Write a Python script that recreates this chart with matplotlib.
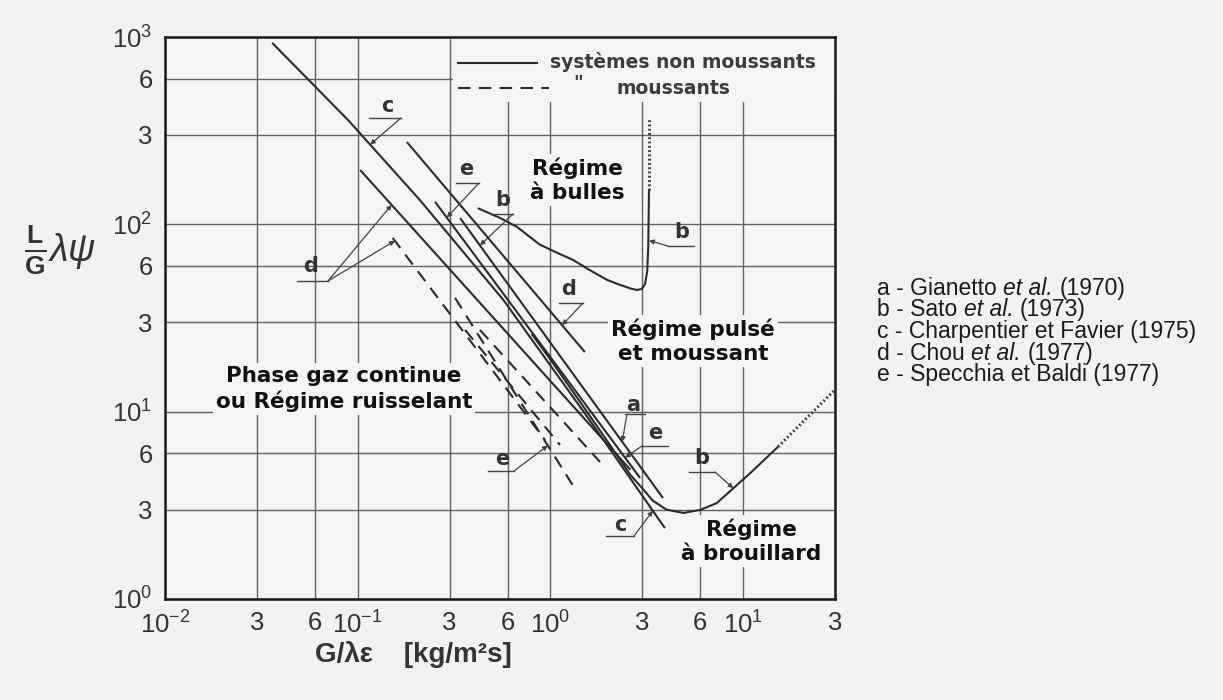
import numpy as np
import matplotlib
matplotlib.use("Agg")
import matplotlib.pyplot as plt
from matplotlib import font_manager
from matplotlib.patches import Rectangle
from matplotlib.ticker import NullLocator

# ---------------- data ----------------
x_ticks = [0.01, 0.03, 0.06, 0.1, 0.3, 0.6, 1, 3, 6, 10, 30]
x_ticklabels = [r'$10^{-2}$', '3', '6', r'$10^{-1}$', '3', '6', r'$10^{0}$', '3', '6', r'$10^{1}$', '3']
y_ticks = [1, 3, 6, 10, 30, 60, 100, 300, 600, 1000]
y_ticklabels = [r'$10^{0}$', '3', '6', r'$10^{1}$', '3', '6', r'$10^{2}$', '3', '6', r'$10^{3}$']

# solid lines (non-foaming systems)
c_x = [0.036, 0.089, 0.21, 0.57, 1.6, 3.93]
c_y = [930, 361, 135, 39.5, 9.0, 2.39]
d_up_x = [0.103, 2.6]
d_up_y = [195, 4.9]
d_right_x = [0.18, 1.51]
d_right_y = [275, 20.8]
e_top_x = [0.252, 2.92]
e_top_y = [132, 4.43]
a_x = [0.34, 3.84]
a_y = [108, 3.46]

# Sato (b) boundaries
b_up_x = [0.42, 0.55, 0.67, 0.88, 1.1, 1.31, 1.6, 1.97, 2.3, 2.6, 2.81, 2.98, 3.1, 3.18, 3.22, 3.25]
b_up_y = [122, 108, 97, 78, 70, 64.6, 57, 50.5, 47.5, 45.5, 44.6, 45.2, 48, 56, 75, 153]
b_up_dot_x = [3.25, 3.25]
b_up_dot_y = [153, 370]
b_low_x = [0.8, 1.0, 1.8, 2.6, 3.0, 3.4, 4.0, 4.9, 6.0, 7.3, 8.9, 10.9, 15.2]
b_low_y = [26, 19, 8.0, 4.6, 3.9, 3.35, 3.0, 2.88, 2.99, 3.25, 3.9, 4.7, 6.5]
b_low_dot_x = [15.2, 30]
b_low_dot_y = [6.5, 13.1]

# dashed lines (foaming systems)
dash_d_x = [0.152, 0.938]
dash_d_y = [84.6, 7.06]
dash_e_x = [0.320, 1.374]
dash_e_y = [40.5, 3.73]
dash_3_x = [0.361, 1.122]
dash_3_y = [27.3, 6.64]
dash_4_x = [0.431, 1.81]
dash_4_y = [27.3, 5.39]

legend_entries = [
    ("a - Gianetto ", "et al.", " (1970)"),
    ("b - Sato ", "et al.", " (1973)"),
    ("c - Charpentier et Favier (1975)", "", ""),
    ("d - Chou ", "et al.", " (1977)"),
    ("e - Specchia et Baldi (1977)", "", ""),
]

# ---------------- fonts ----------------
names = {f.name for f in font_manager.fontManager.ttflist}
narrow = 'Liberation Sans Narrow' if 'Liberation Sans Narrow' in names else 'Liberation Sans'
plt.rcParams['font.family'] = ['Liberation Sans', 'DejaVu Sans']
plt.rcParams['mathtext.fontset'] = 'custom'
plt.rcParams['mathtext.rm'] = narrow
plt.rcParams['mathtext.it'] = narrow + ':italic'
plt.rcParams['mathtext.bf'] = narrow + ':bold'

W, H = 1223, 700
BG = '#f2f2f2'
AXBG = '#f5f5f5'
INK = '#2b2b2b'
GRID = '#606060'

fig = plt.figure(figsize=(W / 100, H / 100), dpi=100, facecolor=BG)
ax = fig.add_axes([165 / W, 101 / H, 670 / W, 562 / H], facecolor=AXBG)
ax.set_xscale('log')
ax.set_yscale('log')
ax.set_xlim(0.01, 30)
ax.set_ylim(1, 1000)
ax.set_xticks(x_ticks)
ax.set_xticklabels(x_ticklabels)
ax.set_yticks(y_ticks)
ax.set_yticklabels(y_ticklabels)
ax.xaxis.set_minor_locator(NullLocator())
ax.yaxis.set_minor_locator(NullLocator())
ax.tick_params(length=0, labelsize=18.5, labelcolor='#333333', pad=9)
for lab in ax.get_xticklabels() + ax.get_yticklabels():
    lab.set_family(narrow)
ax.set_axisbelow(True)
ax.grid(True, color=GRID, lw=1.0)
for s in ax.spines.values():
    s.set_linewidth(1.8)
    s.set_color('#1a1a1a')

# box behind in-plot legend (interrupts grid)
ax.add_patch(Rectangle((0.43, 0.885), 0.57, 0.115, transform=ax.transAxes,
                       facecolor=AXBG, edgecolor='none', zorder=1))

lw = 1.5
solid = [(c_x, c_y), (d_up_x, d_up_y), (d_right_x, d_right_y),
         (e_top_x, e_top_y), (a_x, a_y), (b_up_x, b_up_y), (b_low_x, b_low_y)]
for xs, ys in solid:
    ax.plot(xs, ys, color=INK, lw=lw, zorder=3, solid_capstyle='butt', solid_joinstyle='round')
for xs, ys in [(b_up_dot_x, b_up_dot_y), (b_low_dot_x, b_low_dot_y)]:
    ax.plot(xs, ys, color='#444444', lw=2.2, ls=(0, (0.6, 0.8)), zorder=3)
for xs, ys in [(dash_d_x, dash_d_y), (dash_e_x, dash_e_y), (dash_3_x, dash_3_y), (dash_4_x, dash_4_y)]:
    ax.plot(xs, ys, color=INK, lw=lw, dashes=(6, 4), zorder=3)


def on_curve(xs, ys, x):
    return x, 10 ** np.interp(np.log10(x), np.log10(xs), np.log10(ys))


def fx(px):
    return (px - 165) / 670.0


def fy(py):
    return (599 - py) / 562.0


def letter(ch, tx, ty, ul, tips):
    ax.text(fx(tx), fy(ty), ch, transform=ax.transAxes, ha='center', va='center',
            fontsize=15, fontweight='bold', color='#333333', family='DejaVu Sans', zorder=4)
    ax.plot([fx(ul[0]), fx(ul[1])], [fy(ul[2]), fy(ul[2])], transform=ax.transAxes,
            color='#444444', lw=1.0, zorder=4)
    for start, tip in tips:
        ax.annotate('', xy=tip, xycoords='data', xytext=(fx(start[0]), fy(start[1])),
                    textcoords='axes fraction',
                    arrowprops=dict(arrowstyle='-|>', color='#444444', lw=0.9,
                                    mutation_scale=7, shrinkA=0, shrinkB=0), zorder=4)


letter('c', 387, 106, (369, 401, 118), [((401, 118), on_curve(c_x, c_y, 0.116))])
letter('e', 466, 169, (456, 479, 183), [((479, 183), on_curve(e_top_x, e_top_y, 0.29))])
letter('b', 503, 200, (491, 513, 214), [((513, 214), on_curve(a_x, a_y, 0.431))])
letter('d', 311, 266, (297, 328, 281), [((328, 281), on_curve(d_up_x, d_up_y, 0.15)),
                                       ((328, 281), on_curve(dash_d_x, dash_d_y, 0.156))])
letter('d', 569, 289, (559, 583, 303), [((583, 303), on_curve(d_right_x, d_right_y, 1.15))])
letter('b', 682, 232, (668, 694, 246), [((668, 246), (b_up_x[-1], 82))])
letter('a', 633, 405, (625, 645, 414), [((627, 414), on_curve(a_x, a_y, 2.36))])
letter('e', 655, 433, (642, 668, 446), [((642, 446), on_curve(e_top_x, e_top_y, 2.44))])
letter('e', 502, 459, (488, 514, 471), [((514, 471), on_curve(dash_e_x, dash_e_y, 0.97))])
letter('b', 702, 458, (689, 715, 472), [((715, 472), on_curve(b_low_x, b_low_y, 8.9))])
letter('c', 620, 525, (606, 634, 536), [((634, 536), on_curve(c_x, c_y, 3.4))])

# region labels
reg = dict(transform=ax.transAxes, ha='center', va='center', fontsize=15.5, fontweight='bold',
           family='DejaVu Sans', color='#111111', linespacing=1.25, zorder=1.5,
           bbox=dict(facecolor=AXBG, edgecolor='none', pad=2))
ax.text(fx(577), fy(180), 'Régime\nà bulles', **reg)
ax.text(fx(693), fy(341), 'Régime pulsé\net moussant', **reg)
ax.text(fx(751), fy(541), 'Régime\nà brouillard', **reg)
ax.text(fx(344), fy(389), 'Phase gaz continue\nou Régime ruisselant', **reg)

# in-plot legend
ax.plot([fx(458), fx(537)], [fy(63), fy(63)], transform=ax.transAxes, color=INK, lw=1.5, zorder=3)
ax.plot([fx(458), fx(549)], [fy(88), fy(88)], transform=ax.transAxes, color=INK, lw=1.5,
        dashes=(6, 4), zorder=3)
lg = dict(transform=ax.transAxes, va='center', fontsize=13.5, fontweight='bold',
          family='DejaVu Sans', color='#3c3c3c', zorder=3)
ax.text(fx(550), fy(62), 'systèmes non moussants', ha='left', **lg)
ax.text(fx(578), fy(84), '"', ha='center', **lg)
ax.text(fx(617), fy(88), 'moussants', ha='left', **lg)

# axis labels
fig.text(60 / W, 1 - 250 / H, r'$\frac{\mathbf{L}}{\mathbf{G}}\lambda\psi$', fontsize=27,
         ha='center', va='center', color='#333333')
fig.text(413 / W, 1 - 655 / H, 'G/λε    [kg/m²s]', fontsize=20, fontweight='bold',
         family=[narrow, 'DejaVu Sans'], ha='center', va='center', color='#333333')

# right-hand legend with italic parts
renderer = fig.canvas.get_renderer()
LFS = 16.5


def width_of(s, style):
    t = fig.text(0, 0, s, fontsize=LFS, style=style)
    w = t.get_window_extent(renderer).width
    t.remove()
    return w


space_w = width_of('a a', 'normal') - width_of('aa', 'normal')
y0 = 288
for i, (p1, p2, p3) in enumerate(legend_entries):
    yy = 1 - (y0 + i * 21.7) / H
    x = 877
    for s, style in [(p1.rstrip(), 'normal'), (p2, 'italic'), (p3.lstrip(), 'normal')]:
        if not s:
            continue
        t = fig.text(x / W, yy, s, fontsize=LFS, style=style, ha='left', va='center', color='#1a1a1a')
        x += t.get_window_extent(renderer).width + space_w

fig.savefig('out.png', dpi=100, facecolor=BG)
